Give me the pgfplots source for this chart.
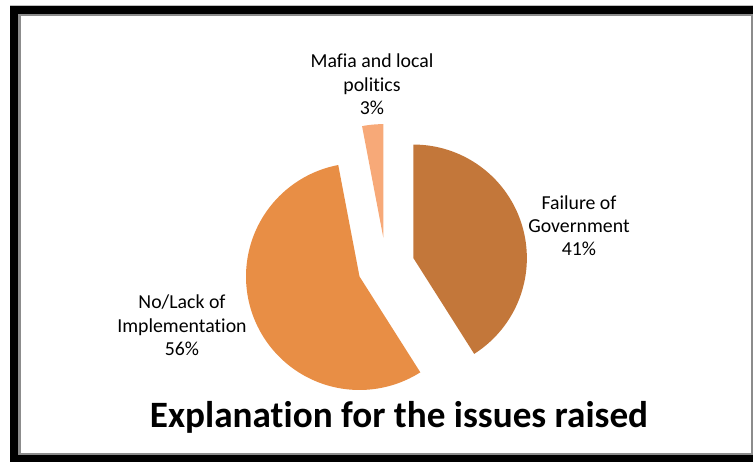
\documentclass[border=0pt]{standalone}
\usepackage{pgfplots}
\pgfplotsset{compat=1.18}
\usepackage{pgfplotstable}
\usepackage{fontspec}
\setmainfont{Carlito}[Ligatures=NoCommon]

\definecolor{cF}{HTML}{C3773A}
\definecolor{cN}{HTML}{E88E45}
\definecolor{cM}{HTML}{F7A978}
\definecolor{frameGray}{HTML}{8C8C8C}

\pgfplotstableread{
slice value
Failure 41
NoLack 56
Mafia 3
}\piedata

\begin{document}
\begin{tikzpicture}
\pgfplotstablegetelem{0}{value}\of\piedata \pgfmathsetmacro{\vF}{\pgfplotsretval}
\pgfplotstablegetelem{1}{value}\of\piedata \pgfmathsetmacro{\vN}{\pgfplotsretval}
\pgfplotstablegetelem{2}{value}\of\piedata \pgfmathsetmacro{\vM}{\pgfplotsretval}
\pgfmathsetmacro{\aF}{90}
\pgfmathsetmacro{\bF}{\aF-3.6*\vF}
\pgfmathsetmacro{\bN}{\bF-3.6*\vN}
\pgfmathsetmacro{\bM}{\bN-3.6*\vM}
\pgfmathsetmacro{\mF}{(\aF+\bF)/2}
\pgfmathsetmacro{\mN}{(\bF+\bN)/2}
\pgfmathsetmacro{\mM}{(\bN+\bM)/2}
\def\cx{386}\def\cy{266}\def\R{113.5}\def\D{28.5}
\pgfmathsetmacro{\xF}{\cx+\D*cos(\mF)}\pgfmathsetmacro{\yF}{\cy-\D*sin(\mF)}
\pgfmathsetmacro{\xN}{\cx+\D*cos(\mN)}\pgfmathsetmacro{\yN}{\cy-\D*sin(\mN)}
\pgfmathsetmacro{\xM}{\cx+\D*cos(\mM)}\pgfmathsetmacro{\yM}{\cy-\D*sin(\mM)}
\begin{axis}[width=753pt,height=462pt,scale only axis,
  xmin=0,xmax=753,ymin=0,ymax=462,y dir=reverse,hide axis,clip=false]
% frame
\fill[black!25] (axis cs:10,5) rectangle (axis cs:753,6);
\fill[black] (axis cs:10,6) rectangle (axis cs:753,14);
\fill[black] (axis cs:10,6) rectangle (axis cs:18,462);
\fill[black] (axis cs:10,455) rectangle (axis cs:753,462);
\fill[frameGray] (axis cs:18,14) rectangle (axis cs:753,16);
\fill[frameGray] (axis cs:18,14) rectangle (axis cs:20.5,455);
\fill[frameGray] (axis cs:18,453) rectangle (axis cs:753,455);
\fill[frameGray] (axis cs:750.5,14) rectangle (axis cs:753,455);
% slices
\addplot[fill=cF,draw=none,domain=\bF:\aF,samples=120]
  ({\xF+\R*cos(x)},{\yF-\R*sin(x)}) -- (axis cs:\xF,\yF) -- cycle;
\addplot[fill=cN,draw=none,domain=\bN:\bF,samples=160]
  ({\xN+\R*cos(x)},{\yN-\R*sin(x)}) -- (axis cs:\xN,\yN) -- cycle;
\addplot[fill=cM,draw=none,domain=\bM:\bN,samples=20]
  ({\xM+\R*cos(x)},{\yM-\R*sin(x)}) -- (axis cs:\xM,\yM) -- cycle;
% labels
\tikzset{lab/.style={anchor=base,font=\fontsize{19.8}{23.5}\selectfont,inner sep=0pt}}
\node[lab] at (axis cs:372,68) {Mafia and local};
\node[lab] at (axis cs:372,91.5) {politics};
\node[lab] at (axis cs:372,115) {3\%};
\node[lab] at (axis cs:579,210) {Failure of};
\node[lab] at (axis cs:579,233) {Government};
\node[lab] at (axis cs:579,256) {41\%};
\node[lab] at (axis cs:182,309) {No/Lack of};
\node[lab] at (axis cs:182,332.5) {Implementation};
\node[lab] at (axis cs:182,356) {56\%};
\node[anchor=base,inner sep=0pt,font=\bfseries\fontsize{37.2}{40}\selectfont] at (axis cs:399,428) {Explanation for the issues raised};
\end{axis}
\pgfresetboundingbox
\path[use as bounding box] (current axis.south west) rectangle (current axis.north east);
\end{tikzpicture}
\end{document}
